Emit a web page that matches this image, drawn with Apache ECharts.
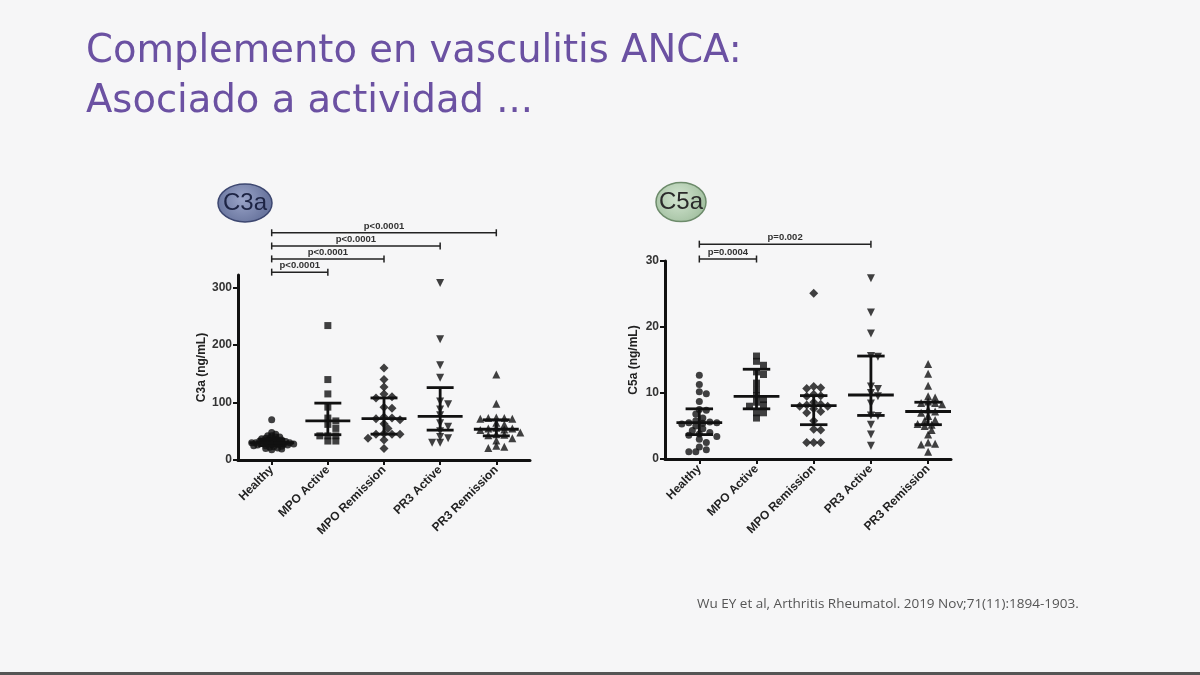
<!DOCTYPE html>
<html>
<head>
<meta charset="utf-8">
<script src="https://cdn.jsdelivr.net/npm/echarts@6/dist/echarts.min.js"></script>
<style>
html,body{margin:0;padding:0;background:#f6f6f7;}
#chart{width:1200px;height:675px;}
</style>
</head>
<body>
<div id="chart"></div>
<script>
// ---------- DATA ----------
const categories = ['Healthy', 'MPO Active', 'MPO Remission', 'PR3 Active', 'PR3 Remission'];

// C3a (ng/mL)
const c3aHealthy = [70, 48, 45, 42, 42, 40, 40, 38, 38, 37, 36, 35, 35, 34, 33, 33, 32, 32, 31, 31, 30, 30, 30, 29, 29, 28, 28, 27, 27, 26, 26, 25, 25, 24, 23, 22, 21, 20, 19, 18];
const c3aMpoActive = [234, 140, 115, 92, 73, 68, 62, 55, 42, 42, 42, 33, 33];
const c3aMpoRemission = [160, 140, 127, 115, 110, 108, 92, 90, 75, 73, 72, 70, 63, 55, 46, 45, 45, 45, 38, 35, 20];
const c3aPr3Active = [308, 210, 165, 143, 102, 97, 88, 78, 64, 58, 50, 40, 38, 30, 30];
const c3aPr3Remission = [149, 98, 74, 73, 73, 72, 72, 65, 62, 56, 55, 55, 53, 52, 48, 45, 44, 43, 38, 34, 25, 23, 21];
const c3aMedian = [30, 68, 72, 76, 53.5];
const c3aQ1 = [25, 44, 45, 52, 42];
const c3aQ3 = [36, 99, 108, 126, 70];
const c3aTicks = [0, 100, 200, 300];
const c3aCompFrom = [0, 0, 0, 0];
const c3aCompTo = [1, 2, 3, 4];
const c3aCompLabel = ['p<0.0001', 'p<0.0001', 'p<0.0001', 'p<0.0001'];

// C5a (ng/mL)
const c5aHealthy = [12.7, 11.3, 10.2, 9.9, 8.7, 7.5, 7.4, 6.8, 6.2, 5.8, 5.6, 5.5, 5.5, 5.4, 5.3, 5.0, 4.6, 4.3, 4.0, 3.8, 3.6, 3.4, 3.0, 2.5, 1.8, 1.4, 1.1, 1.1];
const c5aMpoActive = [15.6, 14.8, 14.2, 13.2, 12.8, 11.5, 10.5, 9.6, 9.0, 8.6, 8.2, 8.0, 7.0, 7.0, 6.2];
const c5aMpoRemission = [25.1, 11.0, 10.8, 10.7, 9.8, 9.6, 9.5, 8.6, 8.3, 8.2, 8.0, 8.0, 7.6, 7.2, 7.0, 5.8, 4.5, 4.4, 2.5, 2.5, 2.5];
const c5aPr3Active = [27.4, 22.2, 19.0, 15.6, 15.5, 11.0, 10.6, 10.0, 9.5, 8.4, 6.6, 6.5, 5.2, 3.7, 2.0];
const c5aPr3Remission = [14.4, 12.9, 11.1, 9.5, 9.3, 8.7, 8.5, 8.5, 8.3, 7.5, 7.2, 7.0, 6.5, 5.9, 5.8, 5.3, 5.2, 5.0, 4.4, 3.7, 2.5, 2.3, 2.2, 1.1];
const c5aMedian = [5.5, 9.5, 8.1, 9.7, 7.2];
const c5aQ1 = [3.7, 7.6, 5.2, 6.6, 5.2];
const c5aQ3 = [7.6, 13.6, 9.6, 15.6, 8.6];
const c5aTicks = [0, 10, 20, 30];
const c5aCompFrom = [0, 0];
const c5aCompTo = [1, 3];
const c5aCompLabel = ['p=0.0004', 'p=0.002'];

// ---------- LAYOUT ----------
const L3 = {left: 238, top: 275, width: 292, height: 185, xmin: -0.6, xmax: 4.6, ymax: 322, nameGap: 30,
  swarmX: [4.0, 8, 8, 8, 8], swarmY: [2.4, 5, 5, 5, 5], levels: [327, 350, 372.5, 395.5]};
const L5 = {left: 665, top: 261, width: 286, height: 198, xmin: -0.6, xmax: 4.4, ymax: 30, nameGap: 25,
  swarmX: [7, 7, 7, 7, 7], swarmY: [5, 5, 5, 5, 5], levels: [30.3, 32.55]};
const symbols = ['circle', 'rect', 'diamond', 'triangle', 'triangle'];
const symbolRot = [0, 0, 0, 180, 0];
const symbolSizes = [7, 7, 9, 8, 8];
const INK = '#111';
const SANS = '"Liberation Sans", Arial, sans-serif';

function swarm(vals, pyu, pxu, ax, ay) {
  const order = vals.map((v, i) => ({v, i})).sort((a, b) => b.v - a.v);
  const placed = [];
  const offs = new Array(vals.length);
  for (const it of order) {
    const y = it.v * pyu;
    let chosen = 0;
    for (let k = 0; k < 80; k++) {
      const off = k === 0 ? 0 : (k % 2 ? 1 : -1) * Math.ceil(k / 2) * ax * 0.5;
      if (placed.every(p => ((p.x - off) / ax) ** 2 + ((p.y - y) / ay) ** 2 >= 1)) { chosen = off; break; }
    }
    placed.push({x: chosen, y});
    offs[it.i] = chosen / pxu;
  }
  return offs;
}

function buildPanel(idx, L, groups, med, q1, q3, ticks, name, cFrom, cTo, cLab) {
  const pyu = L.height / L.ymax;
  const pxu = L.width / (L.xmax - L.xmin);
  const series = [];
  groups.forEach((vals, g) => {
    const offs = swarm(vals, pyu, pxu, L.swarmX[g], L.swarmY[g]);
    series.push({
      type: 'scatter', xAxisIndex: idx, yAxisIndex: idx,
      symbol: symbols[g], symbolRotate: symbolRot[g], symbolSize: symbolSizes[g],
      itemStyle: {color: INK}, silent: true,
      data: vals.map((v, i) => [g + offs[i], v]), z: 3
    });
  });
  series.push({
    type: 'custom', xAxisIndex: idx, yAxisIndex: idx, silent: true, z: 4, clip: false,
    data: med.map((m, g) => [g, m, q1[g], q3[g]]),
    encode: {x: 0, y: [1, 2, 3]},
    renderItem: function (params, api) {
      const g = api.value(0);
      const c = api.coord([g, api.value(1)]);
      const lo = api.coord([g, api.value(2)]);
      const hi = api.coord([g, api.value(3)]);
      const hw = api.size([0.4, 0])[0];
      const cw = api.size([0.24, 0])[0];
      const st = {stroke: INK, lineWidth: 2.8, fill: null};
      return {type: 'group', children: [
        {type: 'line', shape: {x1: c[0] - hw, y1: c[1], x2: c[0] + hw, y2: c[1]}, style: st},
        {type: 'line', shape: {x1: c[0], y1: lo[1], x2: c[0], y2: hi[1]}, style: st},
        {type: 'line', shape: {x1: c[0] - cw, y1: lo[1], x2: c[0] + cw, y2: lo[1]}, style: st},
        {type: 'line', shape: {x1: c[0] - cw, y1: hi[1], x2: c[0] + cw, y2: hi[1]}, style: st}
      ]};
    }
  });
  series.push({
    type: 'custom', xAxisIndex: idx, yAxisIndex: idx, silent: true, z: 4, clip: false,
    data: cFrom.map((f, k) => [f, cTo[k], L.levels[k], k]),
    encode: {x: [0, 1], y: 2},
    renderItem: function (params, api) {
      const a = api.coord([api.value(0), api.value(2)]);
      const b = api.coord([api.value(1), api.value(2)]);
      const lab = cLab[api.value(3)];
      const st = {stroke: '#222', lineWidth: 1.5};
      return {type: 'group', children: [
        {type: 'line', shape: {x1: a[0], y1: a[1], x2: b[0], y2: b[1]}, style: st},
        {type: 'line', shape: {x1: a[0], y1: a[1] - 3.5, x2: a[0], y2: a[1] + 3.5}, style: st},
        {type: 'line', shape: {x1: b[0], y1: b[1] - 3.5, x2: b[0], y2: b[1] + 3.5}, style: st},
        {type: 'text', style: {text: lab, x: (a[0] + b[0]) / 2, y: a[1] - 1.5, align: 'center', verticalAlign: 'bottom',
          font: 'bold 9.5px ' + SANS, fill: '#333'}}
      ]};
    }
  });
  const grid = {left: L.left, top: L.top, width: L.width, height: L.height, containLabel: false};
  const xAxis = {
    gridIndex: idx, type: 'value', min: L.xmin, max: L.xmax,
    splitLine: {show: false},
    axisLine: {show: true, onZero: false, lineStyle: {color: INK, width: 3}},
    axisTick: {show: true, customValues: [0, 1, 2, 3, 4], length: 5, lineStyle: {color: INK, width: 2}},
    axisLabel: {customValues: [0, 1, 2, 3, 4], formatter: v => categories[Math.round(v)], rotate: 45,
      fontSize: 12, fontWeight: 'bold', color: '#222', margin: 8, fontFamily: SANS}
  };
  const yAxis = {
    gridIndex: idx, type: 'value', min: 0, max: L.ymax,
    splitLine: {show: false},
    axisLine: {show: true, onZero: false, lineStyle: {color: INK, width: 3}},
    axisTick: {show: true, customValues: ticks, length: 5, lineStyle: {color: INK, width: 2}},
    axisLabel: {customValues: ticks, fontSize: 12, fontWeight: 'bold', color: '#333', margin: 6, fontFamily: SANS},
    name: name, nameLocation: 'middle', nameGap: L.nameGap,
    nameTextStyle: {fontSize: 12, fontWeight: 'bold', color: '#222', fontFamily: SANS}
  };
  return {grid, xAxis, yAxis, series};
}

const p3 = buildPanel(0, L3, [c3aHealthy, c3aMpoActive, c3aMpoRemission, c3aPr3Active, c3aPr3Remission],
  c3aMedian, c3aQ1, c3aQ3, c3aTicks, 'C3a (ng/mL)', c3aCompFrom, c3aCompTo, c3aCompLabel);
const p5 = buildPanel(1, L5, [c5aHealthy, c5aMpoActive, c5aMpoRemission, c5aPr3Active, c5aPr3Remission],
  c5aMedian, c5aQ1, c5aQ3, c5aTicks, 'C5a (ng/mL)', c5aCompFrom, c5aCompTo, c5aCompLabel);

const TITLE_FONT = '38.5px "DejaVu Sans", Lato, sans-serif';
const BADGE_FONT = '24px "Liberation Sans Narrow", "Liberation Sans", sans-serif';

const chart = echarts.init(document.getElementById('chart'), null, {renderer: 'canvas'});
chart.setOption({
  backgroundColor: '#f6f6f7',
  animation: false,
  grid: [p3.grid, p5.grid],
  xAxis: [p3.xAxis, p5.xAxis],
  yAxis: [p3.yAxis, p5.yAxis],
  series: p3.series.concat(p5.series),
  graphic: [
    {type: 'text', left: 86, top: 32, style: {text: 'Complemento en vasculitis ANCA:', fill: '#6b51a2',
      font: TITLE_FONT}},
    {type: 'text', left: 86, top: 82, style: {text: 'Asociado a actividad ...', fill: '#6b51a2',
      font: TITLE_FONT}},
    {type: 'ellipse', shape: {cx: 245, cy: 203, rx: 27, ry: 19},
      style: {fill: new echarts.graphic.RadialGradient(0.45, 0.4, 0.65, [
        {offset: 0, color: '#9aa4c8'}, {offset: 1, color: '#6a769f'}]), stroke: '#3d4770', lineWidth: 1.5}},
    {type: 'text', x: 245, y: 203, style: {text: 'C3a', align: 'center', verticalAlign: 'middle', fill: '#1d2444',
      font: BADGE_FONT}},
    {type: 'ellipse', shape: {cx: 681, cy: 202, rx: 25, ry: 19.5},
      style: {fill: new echarts.graphic.RadialGradient(0.45, 0.4, 0.65, [
        {offset: 0, color: '#d4e6d2'}, {offset: 1, color: '#a5c2a3'}]), stroke: '#6d8b6b', lineWidth: 1.5}},
    {type: 'text', x: 681, y: 202, style: {text: 'C5a', align: 'center', verticalAlign: 'middle', fill: '#2b2b2b',
      font: BADGE_FONT}},
    {type: 'text', left: 697, top: 597, style: {text: 'Wu EY et al, Arthritis Rheumatol. 2019 Nov;71(11):1894-1903.',
      fill: '#555', font: '13.5px "Open Sans", sans-serif'}},
    {type: 'rect', shape: {x: 0, y: 672, width: 1200, height: 3}, style: {fill: '#555'}}
  ]
});
</script>
</body>
</html>
